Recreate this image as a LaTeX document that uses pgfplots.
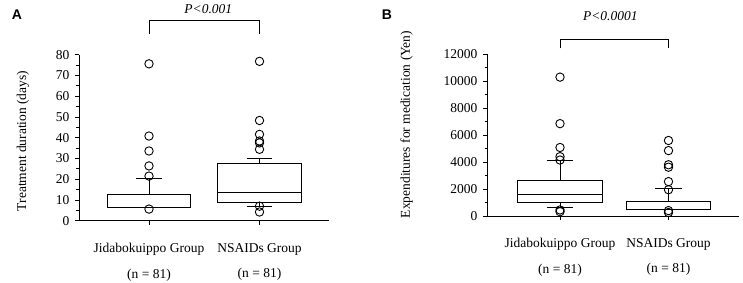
\documentclass[border=0pt]{standalone}
\usepackage{pgfplots}
\pgfplotsset{compat=1.18}
\usepgfplotslibrary{statistics}
\usepackage{fontspec}
\setmainfont{Liberation Serif}
\newfontfamily\arial{Liberation Sans}
\newcommand{\fs}{\fontsize{13.5}{16}\selectfont}
\begin{document}
\begin{tikzpicture}[x=1pt,y=1pt]
\useasboundingbox (0,0) rectangle (743,283);
\pgfplotsset{
 mybox/.style={
  scale only axis, clip=false,
  axis x line*=bottom, axis y line*=left,
  axis line style={line width=0.9pt, -},
  tick align=outside, major tick length=4pt, minor tick length=2.5pt,
  every tick/.style={black, line width=0.8pt},
  minor y tick num=1,
  xtick={1,2},
  xticklabels={{Jidabokuippo Group\\[9.5pt](n = 81)},{NSAIDs Group\\[9.5pt](n = 81)}},
  xticklabel style={align=center, font=\fs, yshift=-15pt},
  yticklabel style={font=\fs, xshift=-2pt},
  scaled y ticks=false,
  /pgf/number format/assume math mode=true,
  /pgf/number format/1000 sep={},
  boxplot/draw direction=y,
 },
 bx/.style={black, line width=0.9pt, fill=white, mark=o, mark size=4.2pt, mark options={line width=0.9pt}},
}
% Panel A
\begin{axis}[mybox, at={(79pt,62.3pt)}, anchor=south west, width=250pt, height=166pt,
  xmin=0.3665, xmax=2.629, ymin=0, ymax=80, ytick={0,10,...,80},
  every axis y label/.style={at={(axis description cs:-0.224,0.48)}, rotate=90, anchor=center, font=\fs},
  ylabel={Treatment duration (days)},
  boxplot/box extend=0.756, boxplot/whisker extend=0.235]
\addplot[bx, boxplot prepared={draw position=1, lower whisker=6.2, lower quartile=6.2, median=6.2, upper quartile=12.6, upper whisker=20.5}]
 coordinates {(0,75.6) (0,40.8) (0,33.6) (0,26.4) (0,21.5) (0,5.6)};
\addplot[bx, boxplot prepared={draw position=2, lower whisker=7.0, lower quartile=9.0, median=13.6, upper quartile=27.6, upper whisker=30.2}]
 coordinates {(0,76.8) (0,48.3) (0,41.6) (0,38.4) (0,37.5) (0,34.4) (0,7.0) (0,4.2)};
\end{axis}
% Panel B
\begin{axis}[mybox, at={(487pt,67pt)}, anchor=south west, width=252pt, height=161.8pt,
  xmin=0.327, xmax=2.65, ymin=0, ymax=12000, ytick={0,2000,...,12000},
  every axis y label/.style={at={(axis description cs:-0.319,0.566)}, rotate=90, anchor=center, font=\fs},
  ylabel={Expenditures for medication (Yen)},
  boxplot/box extend=0.78, boxplot/whisker extend=0.24]
\addplot[bx, boxplot prepared={draw position=1, lower whisker=630, lower quartile=990, median=1590, upper quartile=2600, upper whisker=4100}]
 coordinates {(0,10300) (0,6850) (0,5080) (0,4400) (0,4150) (0,450) (0,320)};
\addplot[bx, boxplot prepared={draw position=2, lower whisker=500, lower quartile=500, median=500, upper quartile=1070, upper whisker=2010}]
 coordinates {(0,5600) (0,4850) (0,3800) (0,3620) (0,2550) (0,1950) (0,400) (0,260)};
\end{axis}
% annotations
\draw[line width=0.9pt] (149,248.7) -- (149,263) -- (259.5,263) -- (259.5,248.7);
\draw[line width=0.9pt] (560,234.7) -- (560,243.7) -- (668.5,243.7) -- (668.5,234.7);
\node[font=\fs\itshape, anchor=base] at (208.3,269.7) {P<0.001};
\node[font=\fs\itshape, anchor=base] at (610.3,262) {P<0.0001};
\node[font=\arial\bfseries\fontsize{14}{16}\selectfont, anchor=base] at (17,263) {A};
\node[font=\arial\bfseries\fontsize{14}{16}\selectfont, anchor=base] at (387,263) {B};
\end{tikzpicture}
\end{document}
